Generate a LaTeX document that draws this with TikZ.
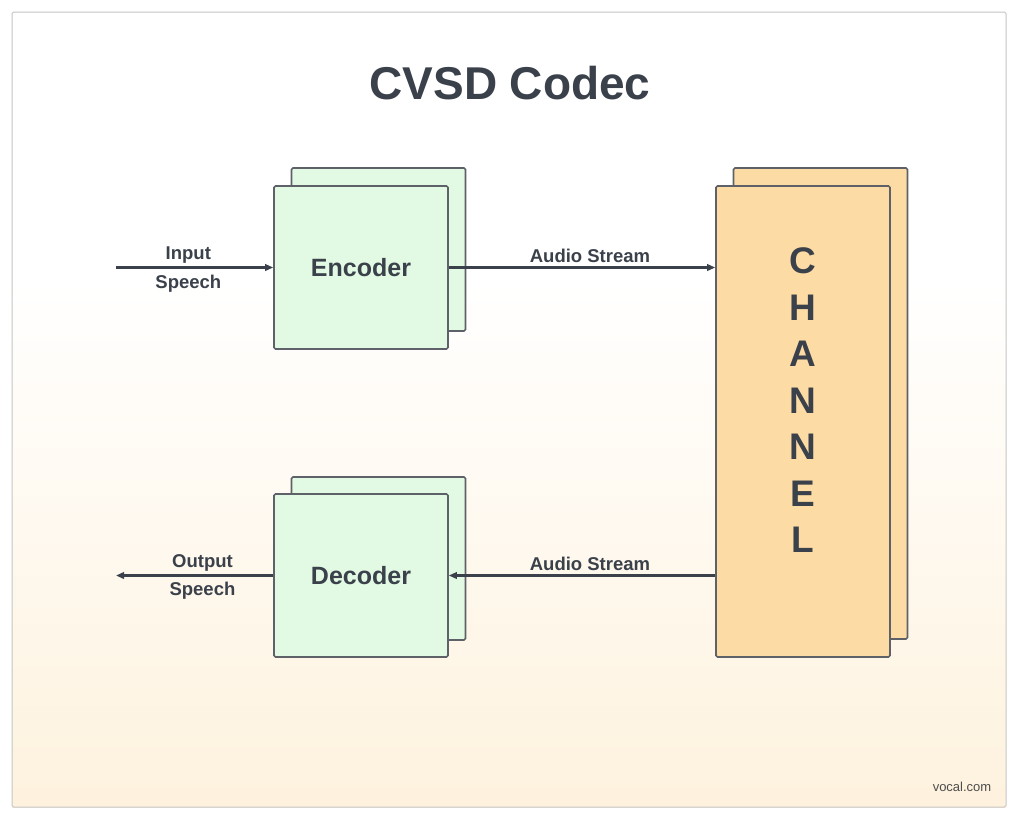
\documentclass[tikz,border=0pt]{standalone}
\usepackage{fontspec}
\setmainfont{Liberation Sans}
\usepackage{tikz}
\usetikzlibrary{arrows.meta}
\definecolor{textgray}{HTML}{3A414A}
\definecolor{edgegray}{HTML}{5E6268}
\definecolor{framegray}{HTML}{C6C6C6}
\definecolor{boxgreen}{HTML}{E2F9E3}
\definecolor{boxorange}{HTML}{FDDBA4}
\definecolor{bgorange}{HTML}{FEF2DE}

\begin{document}
\begin{tikzpicture}[x=1pt,y=-1pt,
  codec/.style={draw=edgegray,line width=1.6pt,rounded corners=1.5pt,fill=boxgreen,
    minimum width=174pt,minimum height=163pt,inner sep=0pt,text=textgray,
    font=\bfseries\fontsize{25}{28}\selectfont},
  chanbox/.style={codec,fill=boxorange,minimum height=471pt},
  flow/.style={draw=textgray,line width=2.2pt,-{Triangle[length=8pt,width=6.5pt]}},
  lbl/.style={font=\bfseries\fontsize{18.5}{20}\selectfont,text=textgray}]
  \useasboundingbox (0,0) rectangle (1024,820);
  % background and frame
  \fill[white] (0,0) rectangle (1024,820);
  \shade[top color=white,bottom color=bgorange] (12,280) rectangle (1006,807);
  \draw[framegray,line width=1pt,rounded corners=1.5pt] (12,12) rectangle (1006,807);
  \node[text=textgray,font=\bfseries\fontsize{46}{50}\selectfont] (title) at (510,83) {CVSD Codec};

  % blocks
  \node[codec] (encback) at (378.5,249.5) {};
  \node[codec] (enc) at (361,267.5) {Encoder};
  \node[codec] (decback) at (378.5,558.5) {};
  \node[codec] (dec) at (361,575.5) {Decoder};
  \node[chanbox] (chanback) at (820.5,403.5) {};
  \node[chanbox] (chan) at (803,421.5) {};
  \node[text=textgray,font=\bfseries\fontsize{37}{46.5}\selectfont,align=center] (chanlbl)
    at (803,400.5) {C\\H\\A\\N\\N\\E\\L};

  % signal flow
  \coordinate (spin) at (116,267.5);
  \coordinate (spout) at (116,575.5);
  \draw[flow] (spin) -- (enc.west)
    node[lbl,pos=.46,yshift=12pt] {Input} node[lbl,pos=.46,yshift=-16pt] {Speech};
  \draw[flow] (enc.east) -- (enc.east -| chan.west)
    node[lbl,pos=.53,yshift=12pt] {Audio Stream};
  \draw[flow] (dec.east -| chan.west) -- (dec.east)
    node[lbl,pos=.47,yshift=12pt] {Audio Stream};
  \draw[flow] (dec.west) -- (spout)
    node[lbl,pos=.45,yshift=13pt] {Output} node[lbl,pos=.45,yshift=-15pt] {Speech};

  \node[text=black!70,font=\fontsize{13}{15}\selectfont] (credit) at (962,787) {vocal.com};
\end{tikzpicture}
\end{document}
